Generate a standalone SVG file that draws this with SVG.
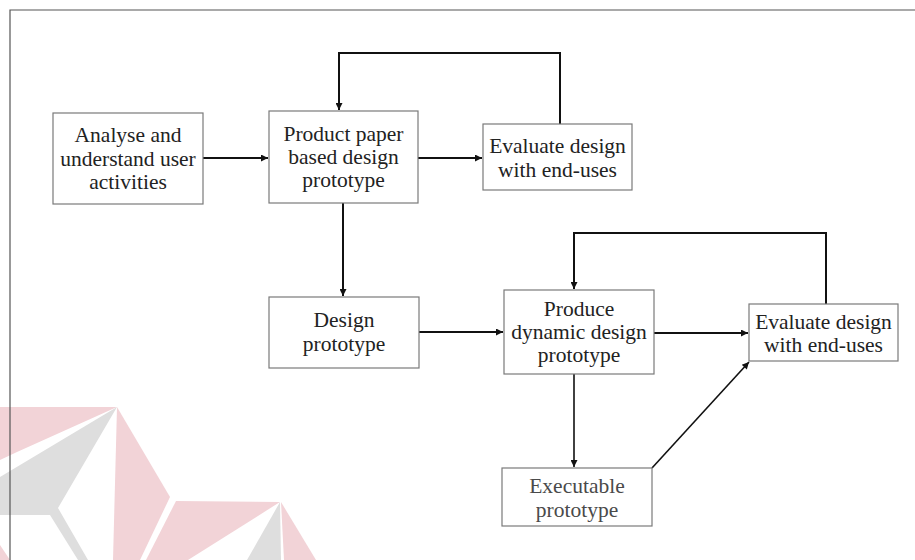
<svg xmlns="http://www.w3.org/2000/svg" width="915" height="560" viewBox="0 0 915 560">
  <style>
    .box { fill: #ffffff; stroke: #7a7a7a; stroke-width: 1.2; }
    .lbl { font-family: "Liberation Serif", "Times New Roman", serif; font-size: 21.5px; fill: #222222; text-anchor: middle; }
    .lbl.soft { fill: #4a4a4a; }
    .edge { fill: none; stroke: #111111; stroke-width: 2; }
    .thin { fill: none; stroke: #111111; stroke-width: 1.6; }
    .frame { fill: none; stroke: #555555; stroke-width: 1.2; }
    .wm-pink { fill: #f2d3d7; }
    .wm-gray { fill: #dedede; }
  </style>
  <defs>
    <marker id="arrow" viewBox="0 0 10 10" refX="10" refY="5" markerWidth="9" markerHeight="7" markerUnits="userSpaceOnUse" orient="auto">
      <path d="M0,0 L10,5 L0,10 z" fill="#111111"/>
    </marker>
  </defs>

  <rect width="915" height="560" fill="#ffffff"/>

  <!-- background emblem -->
  <g id="emblem">
    <polygon class="wm-pink" points="0,407 117,407 17,452 0,460"/>
    <polygon class="wm-gray" points="117,407 0,477 0,515 50,515 78,560 88,560 58,508"/>
    <polygon class="wm-pink" points="117,407 170,497 140,560 113,560"/>
    <polygon class="wm-pink" points="0,545 10,560 0,560"/>
    <polygon class="wm-pink" points="176,501 280,502 188,560 146,560"/>
    <polygon class="wm-gray" points="280,502 247,560 281,560"/>
    <polygon class="wm-pink" points="281,502 316,560 284,560"/>
  </g>

  <!-- page frame -->
  <polyline class="frame" points="10,560 10,10 915,10"/>

  <g id="connectors">
    <line class="edge" x1="203" y1="158" x2="268" y2="158" marker-end="url(#arrow)"/>
    <line class="edge" x1="418" y1="158" x2="482" y2="158" marker-end="url(#arrow)"/>
    <polyline class="edge" points="560,124 560,53 339,53 339,110" marker-end="url(#arrow)"/>
    <line class="edge" x1="343" y1="203" x2="343" y2="296" marker-end="url(#arrow)"/>
    <line class="edge" x1="419" y1="332" x2="503" y2="332" marker-end="url(#arrow)"/>
    <line class="edge" x1="654" y1="333" x2="748" y2="333" marker-end="url(#arrow)"/>
    <polyline class="edge" points="826,304 826,233 574,233 574,289" marker-end="url(#arrow)"/>
    <line class="thin" x1="574" y1="374" x2="574" y2="467" marker-end="url(#arrow)"/>
    <line class="thin" x1="652" y1="468" x2="749" y2="362" marker-end="url(#arrow)"/>
  </g>

  <g id="analyse">
    <rect class="box" x="53" y="113" width="150" height="91"/>
    <text class="lbl" x="128" y="142">Analyse and</text>
    <text class="lbl" x="128" y="166">understand user</text>
    <text class="lbl" x="128" y="189">activities</text>
  </g>

  <g id="paper-prototype">
    <rect class="box" x="269" y="111" width="149" height="92"/>
    <text class="lbl" x="343.5" y="141">Product paper</text>
    <text class="lbl" x="343.5" y="164">based design</text>
    <text class="lbl" x="343.5" y="187">prototype</text>
  </g>

  <g id="evaluate-paper">
    <rect class="box" x="483" y="124" width="149" height="66"/>
    <text class="lbl" x="557.5" y="153">Evaluate design</text>
    <text class="lbl" x="557.5" y="177">with end-uses</text>
  </g>

  <g id="design-prototype">
    <rect class="box" x="269" y="297" width="150" height="71"/>
    <text class="lbl" x="344" y="327">Design</text>
    <text class="lbl" x="344" y="351">prototype</text>
  </g>

  <g id="dynamic-prototype">
    <rect class="box" x="504" y="290" width="150" height="84"/>
    <text class="lbl" x="579" y="316">Produce</text>
    <text class="lbl" x="579" y="339">dynamic design</text>
    <text class="lbl" x="579" y="362">prototype</text>
  </g>

  <g id="evaluate-dynamic">
    <rect class="box" x="749" y="304" width="149" height="57"/>
    <text class="lbl" x="823.5" y="329">Evaluate design</text>
    <text class="lbl" x="823.5" y="352">with end-uses</text>
  </g>

  <g id="executable">
    <rect class="box" x="502" y="468" width="150" height="58"/>
    <text class="lbl soft" x="577" y="493">Executable</text>
    <text class="lbl soft" x="577" y="517">prototype</text>
  </g>
</svg>
